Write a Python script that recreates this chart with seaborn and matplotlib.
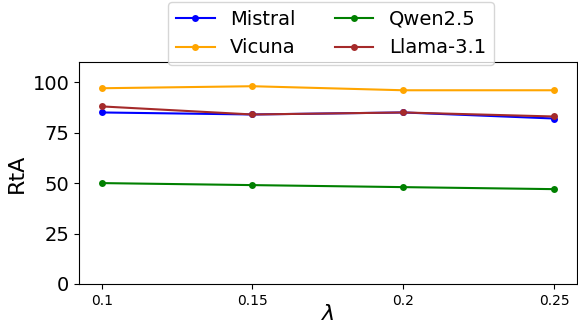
import matplotlib
matplotlib.use("Agg")
import matplotlib.pyplot as plt
import seaborn as sns
import pandas as pd

lambdas = [0.1, 0.15, 0.2, 0.25]
tick_labels = ["0.1", "0.15", "0.2", "0.25"]
mistral = [85, 84, 85, 82]
vicuna = [97, 98, 96, 96]
qwen = [50, 49, 48, 47]
llama = [88, 84, 85, 83]

series = {"Mistral": mistral, "Vicuna": vicuna, "Qwen2.5": qwen, "Llama-3.1": llama}
colors = {"Mistral": "blue", "Vicuna": "orange", "Qwen2.5": "green", "Llama-3.1": "brown"}

rows = []
for name, vals in series.items():
    for x, v in zip(lambdas, vals):
        rows.append({"lambda": x, "RtA": v, "model": name})
df = pd.DataFrame(rows)

fig = plt.figure(figsize=(5.78, 3.24), dpi=100)
ax = fig.add_axes([0.1367, 0.1235, 0.8613, 0.6851])

sns.lineplot(data=df, x="lambda", y="RtA", hue="model", palette=colors,
             marker="o", markersize=5, markeredgewidth=0, linewidth=1.5, ax=ax,
             hue_order=list(series.keys()))

ax.set_ylim(0, 110)
ax.set_yticks([0, 25, 50, 75, 100])
ax.set_xticks(lambdas)
ax.set_xticklabels(tick_labels, fontsize=10)
ax.tick_params(axis="y", labelsize=14)
ax.set_xlabel(r"$\lambda$", fontsize=16, labelpad=-2.5)
ax.set_ylabel("RtA", fontsize=16)

leg = ax.legend(loc="upper center", bbox_to_anchor=(0.506, 1.315), ncol=2,
                fontsize=14, handlelength=2.0, columnspacing=2.0,
                handletextpad=0.8, borderpad=0.4, labelspacing=0.5)
fig.savefig("out.png", dpi=100)
